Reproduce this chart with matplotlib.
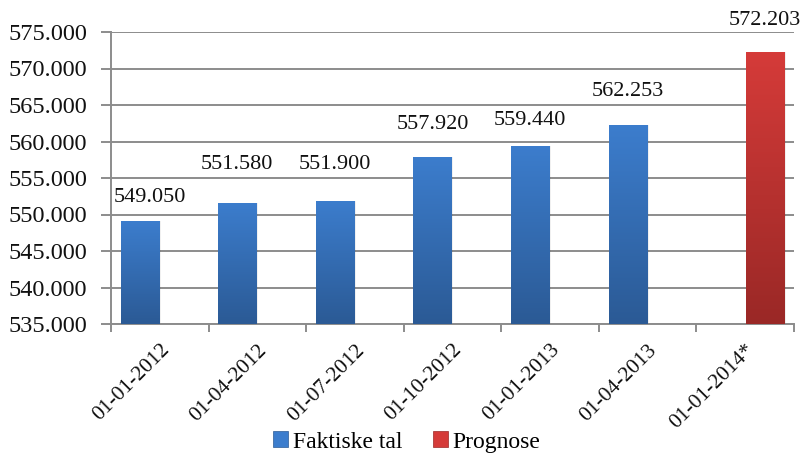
# Faktiske tal vs prognose, clustered bars with gradient fill -> out.png
import numpy as np
import matplotlib.pyplot as plt
from matplotlib.colors import LinearSegmentedColormap
from matplotlib.patches import Patch
from matplotlib.ticker import FuncFormatter, FixedLocator

plt.rcParams["font.family"] = ["Liberation Serif", "DejaVu Serif"]

categories = ["01-01-2012", "01-04-2012", "01-07-2012", "01-10-2012",
              "01-01-2013", "01-04-2013", "01-01-2014*"]
faktiske = [549050, 551580, 551900, 557920, 559440, 562253, np.nan]
prognose = [np.nan, np.nan, np.nan, np.nan, np.nan, np.nan, 572203]
series_names = ["Faktiske tal", "Prognose"]

# label nudges (pixels) to mimic the hand-placed labels in the original
label_dy = [24, 38, 36, 32, 25, 34, 32]
label_dx = [10, 0, 0, 0, 0, 0, 0]

blue = ("#3c7dcd", "#2b5a95")
red = ("#d53b39", "#9a2826")
grid_c = "#8c8c8c"

def fmt(v):
    return f"{v:,.0f}".replace(",", ".")

fig = plt.figure(figsize=(8.02, 4.53), dpi=100)
ax = fig.add_axes([111 / 802, 1 - 324 / 453, (794 - 111) / 802, (324 - 32) / 453])
ymin, ymax = 535000, 575000

x = np.arange(len(categories))
w, off = 0.39, 0.205

def grad_bars(xs, vals, cols):
    cmap = LinearSegmentedColormap.from_list("g", [cols[1], cols[0]])
    grad = np.linspace(0, 1, 256).reshape(-1, 1)
    bars = ax.bar(xs, np.array(vals) - ymin, bottom=ymin, width=w,
                  color="none", edgecolor="none", zorder=3)
    for b, v in zip(bars, vals):
        if np.isnan(v):
            continue
        x0, y0 = b.get_x(), b.get_y()
        # faint drop shadow on the right like the office chart
        ax.bar(x0 + w / 2 + 0.02, b.get_height(), bottom=y0, width=w,
               color="#000000", alpha=0.06, zorder=2)
        im = ax.imshow(grad, cmap=cmap, origin="lower", aspect="auto",
                       extent=(x0, x0 + w, y0, y0 + b.get_height()), zorder=3)
        im.set_clip_path(b)
    return bars

grad_bars(x - off, faktiske, blue)
grad_bars(x + off, prognose, red)
ax.set_xlim(-0.5, len(categories) - 0.5)
ax.set_ylim(ymin, ymax)

for i, (a, p) in enumerate(zip(faktiske, prognose)):
    if not np.isnan(a):
        xi, v = x[i] - off, a
    else:
        xi, v = x[i] + off, p
    ax.annotate(fmt(v), xy=(xi, v), xytext=(label_dx[i] * 0.72, label_dy[i] * 0.72),
                textcoords="offset points", ha="center", va="center",
                fontsize=16, color="#111111", zorder=5)

# axes styling
ax.yaxis.set_major_locator(FixedLocator(np.arange(ymin, ymax + 1, 5000)))
ax.yaxis.set_major_formatter(FuncFormatter(lambda v, _: fmt(v)))
ax.grid(axis="y", color=grid_c, lw=1.4, zorder=0)
ax.set_axisbelow(True)
for s in ["top", "right"]:
    ax.spines[s].set_visible(False)
for s in ["left", "bottom"]:
    ax.spines[s].set_color(grid_c)
    ax.spines[s].set_linewidth(1.4)
ax.tick_params(axis="y", length=7, width=1.4, color=grid_c, labelsize=17.5, pad=10,
               labelcolor="#111111")
ax.set_xticks(x)
ax.set_xticklabels(categories, rotation=45, ha="right", rotation_mode="anchor",
                   fontsize=15.5, color="#111111")
ax.set_xticks(np.arange(-0.5, len(categories), 1), minor=True)
ax.tick_params(axis="x", which="major", length=0, pad=12)
ax.tick_params(axis="x", which="minor", length=6, width=1.4, color=grid_c)

handles = [Patch(facecolor=blue[0], edgecolor=blue[1], lw=0.5),
           Patch(facecolor=red[0], edgecolor=red[1], lw=0.5)]
fig.legend(handles, series_names, loc="center", bbox_to_anchor=(0.507, 1 - 442 / 453),
           ncol=2, frameon=False, fontsize=17, handlelength=0.65, handleheight=0.65,
           handletextpad=0.2, columnspacing=1.3, borderpad=0)

fig.savefig("out.png", dpi=100)
